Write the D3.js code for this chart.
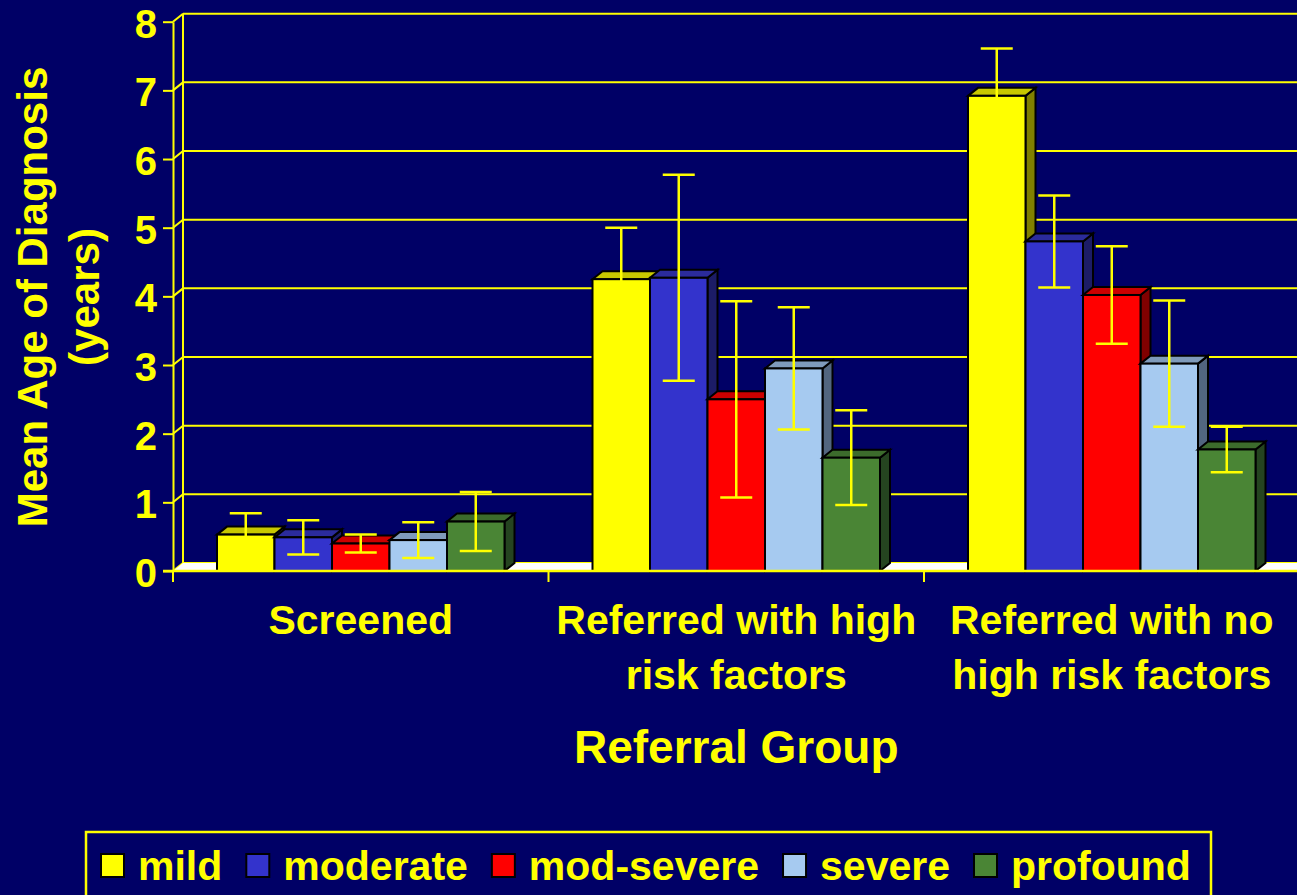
<!DOCTYPE html>
<html>
<head>
<meta charset="utf-8">
<script src="https://cdn.jsdelivr.net/npm/d3@7"></script>
<style>
  html, body { margin: 0; padding: 0; background: #000066; }
  svg { display: block; }
  text { font-family: "Liberation Sans", Arial, sans-serif; font-weight: bold; fill: #ffff00; }
</style>
</head>
<body>
<script>
// ---- Data ----
const categories = ["Screened", "Referred with high risk factors", "Referred with no high risk factors"];
const categoryLines = [["Screened"], ["Referred with high", "risk factors"], ["Referred with no", "high risk factors"]];
const series = ["mild", "moderate", "mod-severe", "severe", "profound"];

const mild      = [0.53, 4.25, 6.92];
const moderate  = [0.49, 4.27, 4.80];
const modSevere = [0.40, 2.50, 4.02];
const severe    = [0.45, 2.95, 3.02];
const profound  = [0.72, 1.65, 1.77];

const mildErr      = [0.31, 0.75, 0.69];
const moderateErr  = [0.25, 1.50, 0.67];
const modSevereErr = [0.13, 1.43, 0.71];
const severeErr    = [0.26, 0.89, 0.92];
const profoundErr  = [0.43, 0.69, 0.33];

const yTicks = [0, 1, 2, 3, 4, 5, 6, 7, 8];
const yTitleLines = ["Mean Age of Diagnosis", "(years)"];
const xTitle = "Referral Group";

const seriesValues = [mild, moderate, modSevere, severe, profound];
const seriesErrors = [mildErr, moderateErr, modSevereErr, severeErr, profoundErr];

// ---- Styling ----
const faceColors = {
  "mild":       { front: "#ffff00", top: "#c8c800", side: "#808000" },
  "moderate":   { front: "#3333cc", top: "#2b2b9c", side: "#1c1c66" },
  "mod-severe": { front: "#ff0000", top: "#cc0000", side: "#800000" },
  "severe":     { front: "#a6caf0", top: "#7f9bbb", side: "#52667f" },
  "profound":   { front: "#4a8535", top: "#3c6b2c", side: "#254420" }
};
const YELLOW = "#ffff00";
const W = 1297, H = 895;

// ---- Layout ----
const X0 = 173, X1 = 1299.5;     // front plane horizontal extent
const DX = 10, DY = -8;          // depth offset of the 3D box

const svg = d3.select("body").append("svg").attr("width", W).attr("height", H);
svg.append("rect").attr("width", W).attr("height", H).attr("fill", "#000066");

const y = d3.scaleLinear().domain([0, 8]).range([571, 21.7]);
const xGroup = d3.scaleBand().domain(categories).range([X0, X1]).padding(0);
const xBar = d3.scaleBand().domain(series).range([44, xGroup.bandwidth() - 44]).padding(0);

// ---- Walls ----
const walls = svg.append("g");
// back-wall gridlines
walls.selectAll("line.grid").data(yTicks).join("line")
  .attr("x1", X0 + DX).attr("x2", W)
  .attr("y1", d => y(d) + DY).attr("y2", d => y(d) + DY)
  .attr("stroke", YELLOW).attr("stroke-width", 2);
// side-wall gridlines
walls.selectAll("line.side").data(yTicks).join("line")
  .attr("x1", X0).attr("x2", X0 + DX)
  .attr("y1", d => y(d)).attr("y2", d => y(d) + DY)
  .attr("stroke", YELLOW).attr("stroke-width", 2);
// back-wall left edge
walls.append("line")
  .attr("x1", X0 + DX).attr("x2", X0 + DX)
  .attr("y1", y(8) + DY).attr("y2", y(0) + DY)
  .attr("stroke", YELLOW).attr("stroke-width", 2);

// floor
svg.append("polygon")
  .attr("points", [[X0, y(0)], [X0 + DX, y(0) + DY], [X1 + DX + 20, y(0) + DY], [X1 + 20, y(0)]].map(p => p.join(",")).join(" "))
  .attr("fill", "#ffffff");

// ---- Bars ----
const bars = [];
categories.forEach((c, gi) => {
  series.forEach((s, si) => {
    bars.push({ cat: c, ser: s, v: seriesValues[si][gi], e: seriesErrors[si][gi] });
  });
});

const barG = svg.append("g");
const pts = arr => arr.map(p => p.join(",")).join(" ");
bars.forEach(b => {
  const x = xGroup(b.cat) + xBar(b.ser);
  const w = xBar.bandwidth();
  const yT = y(b.v), yB = y(0);
  const col = faceColors[b.ser];
  const g = barG.append("g").attr("stroke", "#000").attr("stroke-width", 2).attr("stroke-linejoin", "miter");
  g.append("polygon").attr("fill", col.side)
    .attr("points", pts([[x + w, yB], [x + w + DX, yB + DY], [x + w + DX, yT + DY], [x + w, yT]]));
  g.append("polygon").attr("fill", col.top)
    .attr("points", pts([[x, yT], [x + DX, yT + DY], [x + w + DX, yT + DY], [x + w, yT]]));
  g.append("rect").attr("fill", col.front)
    .attr("x", x).attr("y", yT).attr("width", w).attr("height", yB - yT);
});

// ---- Error bars ----
const errG = svg.append("g").attr("stroke", YELLOW).attr("stroke-width", 2.5);
bars.forEach(b => {
  const cx = xGroup(b.cat) + xBar(b.ser) + xBar.bandwidth() / 2;
  const yHi = y(b.v + b.e), yLo = y(b.v - b.e);
  errG.append("line").attr("x1", cx).attr("x2", cx).attr("y1", yHi).attr("y2", yLo);
  errG.append("line").attr("x1", cx - 16).attr("x2", cx + 16).attr("y1", yHi).attr("y2", yHi);
  errG.append("line").attr("x1", cx - 16).attr("x2", cx + 16).attr("y1", yLo).attr("y2", yLo);
});

// ---- Axes ----
// category axis: front edge plus boundary ticks
svg.append("line").attr("x1", X0 - 10).attr("x2", W).attr("y1", y(0)).attr("y2", y(0))
  .attr("stroke", YELLOW).attr("stroke-width", 2.5);
const bounds = categories.map(c => xGroup(c)).concat([xGroup.range()[1]]);
svg.selectAll("line.xtick").data(bounds).join("line")
  .attr("x1", d => d).attr("x2", d => d).attr("y1", y(0)).attr("y2", y(0) + 11)
  .attr("stroke", YELLOW).attr("stroke-width", 2);

// value axis
const yAxis = svg.append("g").attr("transform", `translate(${X0},0)`)
  .call(d3.axisLeft(y).tickValues(yTicks).tickFormat(d3.format("d")).tickSize(10).tickSizeOuter(0).tickPadding(6));
yAxis.select(".domain").attr("stroke", YELLOW).attr("stroke-width", 2);
yAxis.selectAll(".tick line").attr("stroke", YELLOW).attr("stroke-width", 2);
yAxis.selectAll(".tick text")
  .attr("font-family", "Liberation Sans, Arial, sans-serif")
  .attr("font-weight", "bold").attr("font-size", 40).attr("fill", YELLOW).attr("dy", "0.39em");

// category labels
categories.forEach((c, i) => {
  const cx = xGroup(c) + xGroup.bandwidth() / 2;
  const t = svg.append("text").attr("text-anchor", "middle").attr("font-size", 41);
  categoryLines[i].forEach((line, li) => {
    t.append("tspan").attr("x", cx).attr("y", 634 + li * 55).text(line);
  });
});

// axis titles
svg.append("text").attr("text-anchor", "middle").attr("font-size", 46)
  .attr("x", xGroup(categories[1]) + xGroup.bandwidth() / 2).attr("y", 763).text(xTitle);

const yTitle = svg.append("text").attr("text-anchor", "middle").attr("font-size", 42)
  .attr("transform", "translate(0,297) rotate(-90)");
yTitleLines.forEach((line, i) => {
  yTitle.append("tspan").attr("x", 0).attr("y", 47 + i * 52).text(line);
});

// ---- Legend ----
const legend = svg.append("g");
legend.append("rect").attr("x", 86).attr("y", 832).attr("width", 1125).attr("height", 90)
  .attr("fill", "none").attr("stroke", YELLOW).attr("stroke-width", 2.5);
let lx = 101;
series.forEach(s => {
  legend.append("rect").attr("x", lx).attr("y", 854).attr("width", 23).attr("height", 23)
    .attr("fill", faceColors[s].front).attr("stroke", "#000").attr("stroke-width", 2);
  const t = legend.append("text").attr("x", lx + 37).attr("y", 880).attr("font-size", 41).text(s);
  lx += 37 + t.node().getComputedTextLength() + 24;
});
</script>
</body>
</html>
